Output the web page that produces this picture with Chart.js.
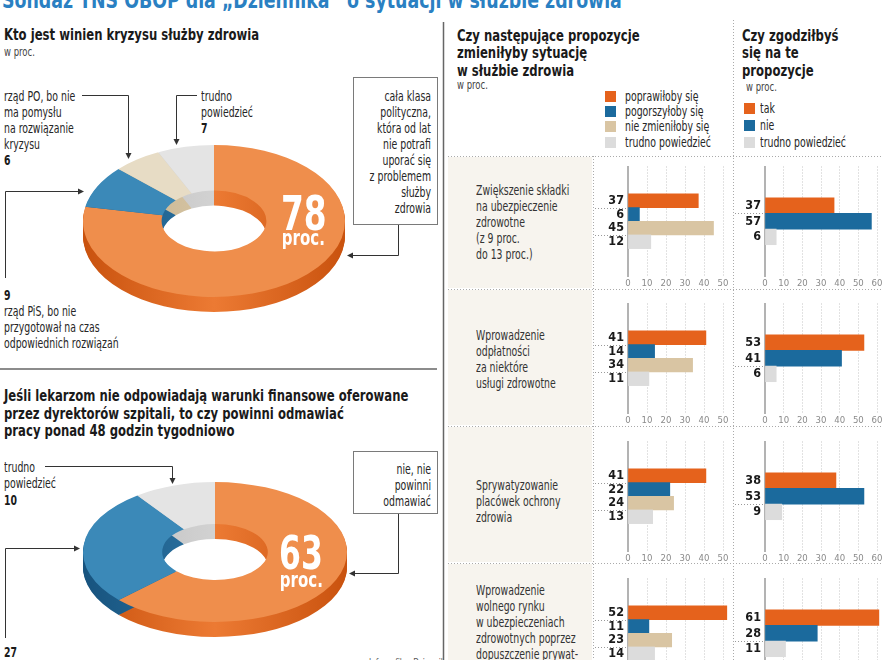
<!DOCTYPE html>
<html><head><meta charset="utf-8">
<script src="https://cdn.jsdelivr.net/npm/chart.js@4/dist/chart.umd.min.js"></script>
<style>
html,body{margin:0;padding:0}
body{width:882px;height:660px;overflow:hidden;position:relative;background:#fff;color:#2b2b2b;font-family:"DejaVu Sans Condensed","DejaVu Sans",sans-serif}
.t{position:absolute;white-space:pre;font-size:13.5px;line-height:16px;color:#262626;transform:scaleX(0.77);transform-origin:left top}
.r{text-align:right;transform-origin:right top}
.b{font-weight:bold;color:#1a1a1a}
.h{position:absolute;white-space:pre;font-weight:bold;font-size:16px;line-height:17.5px;color:#1a1a1a;transform:scaleX(0.81);transform-origin:left top}
.s{position:absolute;white-space:nowrap;font-size:11.5px;line-height:13px;color:#444;transform:scaleX(0.82);transform-origin:left top}
.big{position:absolute;white-space:nowrap;font-weight:bold;color:#fff;line-height:1;transform:scaleX(0.76);transform-origin:left top}
canvas{position:absolute}
.cell{position:absolute;background:#f7f4ee}
.sq{position:absolute}
svg{position:absolute;left:0;top:0}
</style></head><body>
<div id="title" style="position:absolute;left:2px;top:-11px;white-space:nowrap;font-weight:bold;font-size:23px;line-height:1;color:#2a80c2;transform:scaleX(0.84);transform-origin:left top">Sondaż TNS OBOP dla „Dziennika” o sytuacji w służbie zdrowia</div>

<!-- left top -->
<div class="h" style="left:4px;top:26px">Kto jest winien kryzysu służby zdrowia</div>
<div class="s" style="left:4px;top:46px">w proc.</div>
<div class="t" style="left:4px;top:88px">rząd PO, bo nie
ma pomysłu
na rozwiązanie
kryzysu</div>
<div class="t b" id="v_po" style="left:4px;top:152px"></div>
<div class="t" style="left:201px;top:88px">trudno
powiedzieć</div>
<div class="t b" id="v_tp1" style="left:201px;top:120px"></div>
<div class="t r" style="left:334px;width:97px;top:88px">cała klasa
polityczna,
która od lat
nie potrafi
uporać się
z problemem
służby
zdrowia</div>
<div class="t b" id="v_pis" style="left:4px;top:287px"></div>
<div class="t" style="left:4px;top:303px">rząd PiS, bo nie
przygotował na czas
odpowiednich rozwiązań</div>

<!-- left bottom -->
<div class="h" style="left:4px;top:387px">Jeśli lekarzom nie odpowiadają warunki finansowe oferowane
przez dyrektorów szpitali, to czy powinni odmawiać
pracy ponad 48 godzin tygodniowo</div>
<div class="t" style="left:4px;top:459px">trudno
powiedzieć</div>
<div class="t b" id="v_tp2" style="left:4px;top:492px"></div>
<div class="t r" style="left:334px;width:97px;top:461px">nie, nie
powinni
odmawiać</div>
<div class="t b" id="v_tak" style="left:4px;top:644px"></div>
<div class="s" style="left:369px;top:656px;font-size:10px;color:#555">Infografika: Dziennik</div>

<!-- right headers -->
<div class="h" style="left:457px;top:26.5px">Czy następujące propozycje
zmieniłyby sytuację
w służbie zdrowia</div>
<div class="s" style="left:457px;top:79px">w proc.</div>
<div class="h" style="left:742px;top:26.5px">Czy zgodziłbyś
się na te
propozycje</div>
<div class="s" style="left:746px;top:81px">w proc.</div>
<div id="legend1"></div>
<div id="legend2"></div>
<div id="cells"></div>

<div id="big1" class="big"></div>
<div id="big2" class="big"></div>

<script>
// ---------------- DATA ----------------
const blameLabels = ['cała klasa polityczna', 'rząd PiS', 'rząd PO', 'trudno powiedzieć'];
const blameValues = [78, 9, 6, 7];
const refuseLabels = ['nie, nie powinni odmawiać', 'tak', 'trudno powiedzieć'];
const refuseValues = [63, 27, 10];

const proposals = [
  'Zwiększenie składki\nna ubezpieczenie\nzdrowotne\n(z 9 proc.\ndo 13 proc.)',
  'Wprowadzenie\nodpłatności\nza niektóre\nusługi zdrowotne',
  'Sprywatyzowanie\nplacówek ochrony\nzdrowia',
  'Wprowadzenie\nwolnego rynku\nw ubezpieczeniach\nzdrowotnych poprzez\ndopuszczenie prywat-\nnych ubezpieczycieli'
];
const changeSeries = ['poprawiłoby się', 'pogorszyłoby się', 'nie zmieniłoby się', 'trudno powiedzieć'];
const improve      = [37, 41, 41, 52];
const worsen       = [6, 14, 22, 11];
const noChange     = [45, 34, 24, 23];
const changeDK     = [12, 11, 13, 14];
const agreeSeries  = ['tak', 'nie', 'trudno powiedzieć'];
const agreeYes     = [37, 53, 38, 61];
const agreeNo      = [57, 41, 53, 28];
const agreeDK      = [6, 6, 9, 11];
const changeTicks  = [0, 10, 20, 30, 40, 50];
const agreeTicks   = [0, 10, 20, 30, 40, 50, 60];

// ---------------- STYLE ----------------
const FONT = '"DejaVu Sans Condensed", "DejaVu Sans", sans-serif';
Chart.defaults.font.family = FONT;

const C_OR='#e5621c', C_BL='#1b6a9d', C_TAN='#d9c5a3', C_GR='#dcdcdc';
const changeColors=[C_OR,C_BL,C_TAN,C_GR];
const agreeColors=[C_OR,C_BL,C_GR];

document.getElementById('v_po').textContent = blameValues[2];
document.getElementById('v_tp1').textContent = blameValues[3];
document.getElementById('v_pis').textContent = blameValues[1];
document.getElementById('v_tp2').textContent = refuseValues[2];
document.getElementById('v_tak').textContent = refuseValues[1];

function bigLabel(id, val, left, capTop, fs, procTop, procFs){
  const el=document.getElementById(id);
  el.style.left=left+'px'; el.style.top='0px';
  el.innerHTML='<div style="position:absolute;left:0;top:'+(capTop-0.117*fs)+'px;font-size:'+fs+'px">'+val+'</div>'+
   '<div style="position:absolute;left:1px;top:'+procTop+'px;font-size:'+procFs+'px">proc.</div>';
}
bigLabel('big1', blameValues[0], 281, 195, 48, 227, 22);
bigLabel('big2', refuseValues[0], 279, 535, 46, 569, 22);

function legend(id, names, colors, sqX, txtX, centers, size){
  const el=document.getElementById(id);
  names.forEach((n,i)=>{
    const q=document.createElement('div'); q.className='sq';
    q.style.cssText='left:'+sqX+'px;top:'+(centers[i]-size/2)+'px;width:'+size+'px;height:'+size+'px;background:'+colors[i];
    el.appendChild(q);
    const t=document.createElement('div'); t.className='t'; t.textContent=n;
    t.style.left=txtX+'px'; t.style.top=(centers[i]-8)+'px';
    el.appendChild(t);
  });
}
legend('legend1', changeSeries, changeColors, 605, 625, [96,111,126,142], 11);
legend('legend2', agreeSeries, agreeColors, 744, 760, [108,125,142], 11);

const rowTops=[156,289,426,563];
const rowBottoms=[289,426,563,700];
const labelTops=[182,327,477,582];
const cells=document.getElementById('cells');
proposals.forEach((p,i)=>{
  const c=document.createElement('div'); c.className='cell';
  c.style.cssText='left:448px;width:144px;top:'+(rowTops[i]+1)+'px;height:'+(rowBottoms[i]-rowTops[i]-2)+'px';
  cells.appendChild(c);
  const t=document.createElement('div'); t.className='t'; t.textContent=p;
  t.style.left='476px'; t.style.top=labelTops[i]+'px'; t.style.color='#333';
  cells.appendChild(t);
});

// ---------------- SVG lines ----------------
const svgNS='http://www.w3.org/2000/svg';
const svg=document.createElementNS(svgNS,'svg');
svg.setAttribute('width','882'); svg.setAttribute('height','660');
document.body.appendChild(svg);
function line(pts, color, w, dash){
  const p=document.createElementNS(svgNS,'polyline');
  p.setAttribute('points', pts.map(a=>a.join(',')).join(' '));
  p.setAttribute('fill','none'); p.setAttribute('stroke',color||'#333'); p.setAttribute('stroke-width',w||1);
  if(dash) p.setAttribute('stroke-dasharray',dash);
  svg.appendChild(p);
}
function arrow(x,y,dir){
  const L=6,H=3; let pts;
  if(dir==='down') pts=[[x,y],[x-H,y-L],[x+H,y-L]];
  if(dir==='left') pts=[[x,y],[x+L,y-H],[x+L,y+H]];
  if(dir==='right') pts=[[x,y],[x-L,y-H],[x-L,y+H]];
  const p=document.createElementNS(svgNS,'polygon');
  p.setAttribute('points', pts.map(a=>a.join(',')).join(' ')); p.setAttribute('fill','#333');
  svg.appendChild(p);
}
function rect(x,y,w,h){
  const r=document.createElementNS(svgNS,'rect');
  r.setAttribute('x',x); r.setAttribute('y',y); r.setAttribute('width',w); r.setAttribute('height',h);
  r.setAttribute('fill','none'); r.setAttribute('stroke','#7a7a7a'); r.setAttribute('stroke-width',1);
  svg.appendChild(r);
}
line([[0,369],[437,369]],'#666',1.5);
line([[443.5,22],[443.5,660]],'#666',1.5);
line([[733.5,20],[733.5,660]],'#aaa',1,'1,2');
line([[593.5,156],[593.5,660]],'#aaa',1,'1,2');
rowTops.forEach(y=>line([[448,y+0.5],[882,y+0.5]],'#aaa',1,'1,2'));
line([[82,95.5],[128.5,95.5],[128.5,153]]); arrow(128.5,159,'down');
line([[197,95.5],[176.5,95.5],[176.5,139]]); arrow(176.5,145,'down');
rect(353.5,77.5,84,147);
line([[398.5,225],[398.5,255.5],[353,255.5]]); arrow(347,255.5,'left');
line([[5.5,278],[5.5,191.5],[78,191.5]]); arrow(84,191.5,'right');
line([[45,466.5],[172.5,466.5],[172.5,478]]); arrow(172.5,484,'down');
rect(353.5,451.5,84,62);
line([[398.5,514],[398.5,573.5],[355,573.5]]); arrow(349,573.5,'left');
line([[5.5,638],[5.5,548.5],[74,548.5]]); arrow(80,548.5,'right');

// ---------------- DONUTS ----------------
const tilt={
  id:'tilt',
  beforeDatasetsDraw(chart, args, o){
    const ctx=chart.ctx, meta=chart.getDatasetMeta(0), s=o.s, depth=o.depth;
    meta.data.forEach((arc,i)=>{
      const p=arc.getProps(['x','y','startAngle','endAngle','innerRadius','outerRadius'],true);
      const g=ctx.createLinearGradient(p.x-p.outerRadius,0,p.x+p.outerRadius,0);
      g.addColorStop(0,o.dark[i]); g.addColorStop(0.5,o.light[i]); g.addColorStop(1,o.dark[i]);
      for(let d=depth; d>=1; d--){
        ctx.save(); ctx.translate(0,p.y+d); ctx.scale(1,s); ctx.translate(0,-p.y);
        ctx.beginPath();
        ctx.arc(p.x,p.y,p.outerRadius,p.startAngle,p.endAngle);
        ctx.arc(p.x,p.y,p.innerRadius,p.endAngle,p.startAngle,true);
        ctx.closePath(); ctx.fillStyle=g; ctx.fill(); ctx.restore();
      }
    });
    const cy=meta.data[0].y;
    ctx.save(); ctx.translate(0,cy); ctx.scale(1,s); ctx.translate(0,-cy);
  },
  afterDatasetsDraw(chart){ chart.ctx.restore(); }
};
function donut(cx, cy, rx, s, depth, labels, values, faces, dark, light){
  const W=Math.round(2*rx+20), H=Math.round(2*rx*s+20+depth);
  const cv=document.createElement('canvas'); cv.width=W; cv.height=H;
  cv.style.left=(cx-W/2)+'px'; cv.style.top=(cy-(H-depth)/2)+'px';
  cv.style.width=W+'px'; cv.style.height=H+'px';
  document.body.insertBefore(cv, document.getElementById('big1'));
  new Chart(cv,{type:'doughnut',
    data:{labels, datasets:[{data:values, backgroundColor:faces, borderWidth:0, radius:rx, cutout:'40%', clip:false}]},
    options:{responsive:false, animation:false, events:[], layout:{padding:{bottom:depth}},
      plugins:{legend:{display:false}, tooltip:{enabled:false}, tilt:{s, depth, dark, light}}},
    plugins:[tilt]});
}
donut(214, 221, 131, 0.58, 15, blameLabels, blameValues,
  ['#ef8e4c','#3b89b8','#e7dcc5','#e4e4e4'],
  ['#c9520e','#17537e','#c2ad88','#bababa'],
  ['#ec7a33','#2c74a3','#d6c5a4','#d2d2d2']);
donut(215, 552, 132, 0.53, 15, refuseLabels, refuseValues,
  ['#ef8e4c','#3b89b8','#e4e4e4'],
  ['#c9520e','#17537e','#bababa'],
  ['#ec7a33','#2c74a3','#d2d2d2']);

// ---------------- BAR CHARTS ----------------
const dividerPlugin={
  id:'divs',
  afterDraw(chart, args, o){
    const ctx=chart.ctx, y=chart.scales.y;
    ctx.save(); ctx.strokeStyle='#9a9a9a'; ctx.lineWidth=1; ctx.setLineDash([1,2]);
    o.after.forEach(k=>{
      const i=o.before+k;
      const py=Math.round((y.getPixelForTick(i-1)+y.getPixelForTick(i))/2)+0.5;
      ctx.beginPath(); ctx.moveTo(o.x0,py); ctx.lineTo(chart.chartArea.left-1,py); ctx.stroke();
    });
    ctx.restore();
  }
};
function barChart(areaLeft, areaTop, yW, areaW, values, colors, before, after, ticks, divAfter, x0){
  const padTop=6, areaH=115, xH=16, padR=10;
  const W=yW+areaW+padR, H=padTop+areaH+xH;
  const cv=document.createElement('canvas'); cv.width=W; cv.height=H;
  cv.style.left=(areaLeft-yW)+'px'; cv.style.top=(areaTop-padTop)+'px';
  cv.style.width=W+'px'; cv.style.height=H+'px';
  document.body.appendChild(cv);
  const labels=[...Array(before).fill(''), ...values.map(String), ...Array(after).fill('')];
  const data=[...Array(before).fill(null), ...values, ...Array(after).fill(null)];
  const bg=[...Array(before).fill(C_GR), ...colors, ...Array(after).fill(C_GR)];
  new Chart(cv,{type:'bar',
    data:{labels, datasets:[{data, backgroundColor:bg, borderWidth:0, barPercentage:1, categoryPercentage:1, clip:false}]},
    options:{indexAxis:'y', responsive:false, animation:false, events:[],
      layout:{padding:{top:padTop,right:padR,left:0,bottom:0}},
      plugins:{legend:{display:false}, tooltip:{enabled:false}, divs:{after:divAfter, before, x0}},
      scales:{
        x:{min:ticks[0], max:ticks[ticks.length-1],
           afterBuildTicks:s=>{s.ticks=ticks.map(v=>({value:v}));},
           grid:{color:'#c4c4c4', lineWidth:1, drawTicks:false},
           border:{display:false, dash:[1,2]},
           ticks:{font:{size:9.5}, color:'#8a8a8a', padding:2, maxRotation:0, autoSkip:false},
           afterFit:s=>{s.height=xH;}},
        y:{grid:{display:false, drawTicks:false}, border:{color:'#b3b3b3', width:2},
           ticks:{font:{size:12.5, weight:'bold'}, color:'#1a1a1a', padding:4, autoSkip:false},
           afterFit:s=>{s.width=yW;}}
      }},
    plugins:[dividerPlugin]});
}
const areaTops=[161,298,436,573];
const rightDiv=[[1],[2],[2],[2]];
areaTops.forEach((top,r)=>{
  barChart(628, top, 36, 95, [improve[r], worsen[r], noChange[r], changeDK[r]], changeColors, 2, 2, changeTicks, [1,3], 3);
  barChart(765, top, 30, 112, [agreeYes[r], agreeNo[r], agreeDK[r]], agreeColors, 2, 2, agreeTicks, rightDiv[r], 0);
});
</script>
</body></html>
